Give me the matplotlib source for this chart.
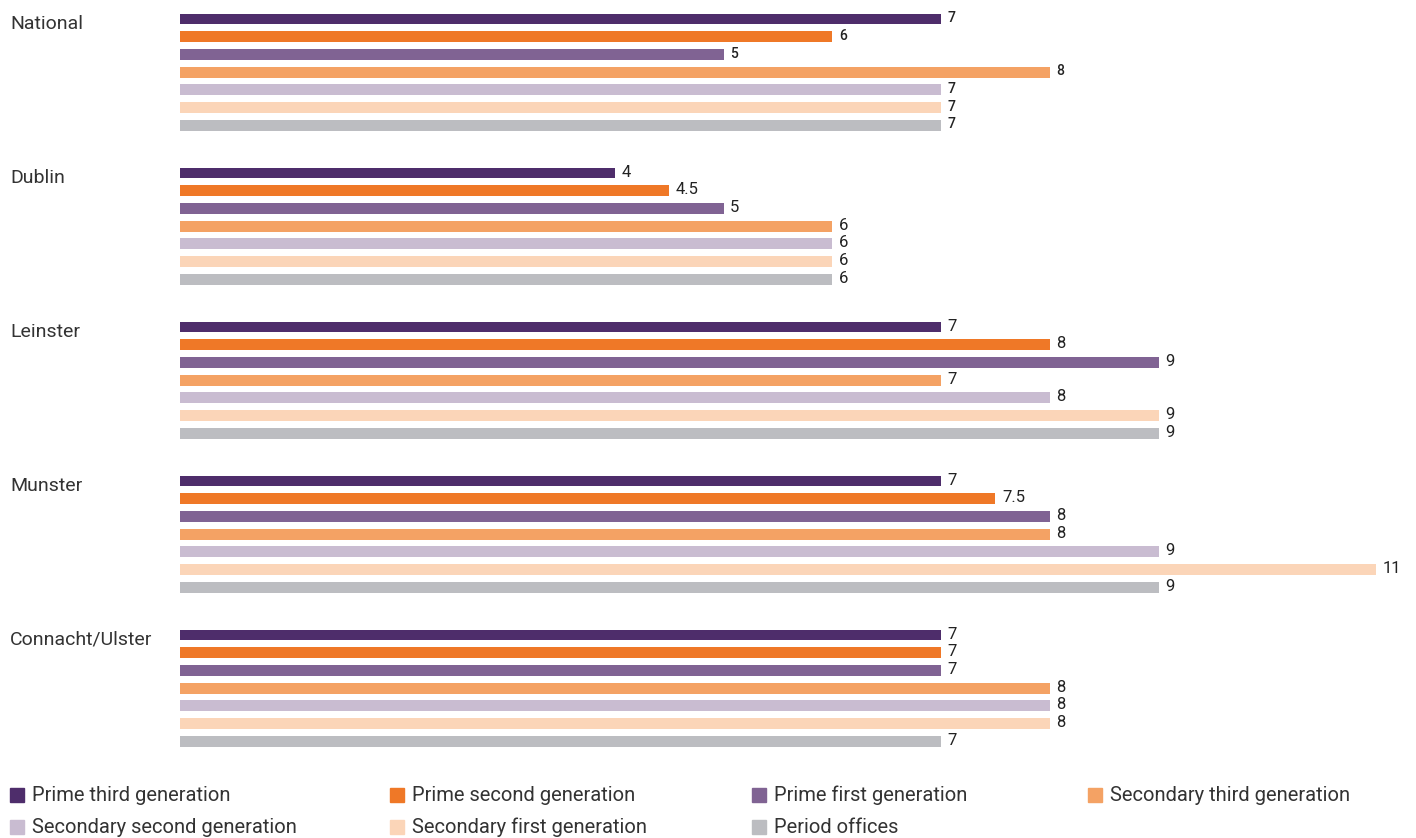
import matplotlib.pyplot as plt
from matplotlib.patches import Rectangle

plt.rcParams['font.family'] = ['Roboto', 'DejaVu Sans']

# data
regions = ['National', 'Dublin', 'Leinster', 'Munster', 'Connacht/Ulster']
series = ['Prime third generation', 'Prime second generation', 'Prime first generation',
          'Secondary third generation', 'Secondary second generation',
          'Secondary first generation', 'Period offices']
national = [7, 6, 5, 8, 7, 7, 7]
dublin = [4, 4.5, 5, 6, 6, 6, 6]
leinster = [7, 8, 9, 7, 8, 9, 9]
munster = [7, 7.5, 8, 8, 9, 11, 9]
connacht = [7, 7, 7, 8, 8, 8, 7]
values = [national, dublin, leinster, munster, connacht]

colors = ['#4e2d6b', '#ef7827', '#806393', '#f4a264', '#c9bcd1', '#fbd5b8', '#bcbdc1']

W, H = 1416, 838
fig = plt.figure(figsize=(W / 100, H / 100), dpi=100)

# axes placed in pixel terms: x from 180 to 1376 (0..11), rows 17.7px apart
row = 17.7
top_px, bot_px = 10, 750
ax = fig.add_axes([180 / W, 1 - bot_px / H, 1196 / W, (bot_px - top_px) / H])
group_gap = 154 / row
first = 19

for g, vals in enumerate(values):
    for j, v in enumerate(vals):
        y = g * group_gap + j
        ax.barh(y, v, height=0.62, color=colors[j])
        lab = ('%g' % v)
        ax.text(v + 0.06, y - 0.05, lab, va='center', ha='left',
                fontsize=10 if g == 0 else 12, color='#222222', clip_on=False,
                fontweight='medium' if g == 0 else 'normal')
    ax.text(-170 / 108.7, g * group_gap + 0.28, regions[g], va='center', ha='left',
            fontsize=14, color='#333333', clip_on=False)

ax.set_xlim(0, 11)
ax.set_ylim((bot_px - first) / row, -(first - top_px) / row)
ax.axis('off')

# legend, laid out as in the original
leg_x = [10, 390, 752, 1088, 10, 390, 752]
leg_y = [795, 795, 795, 795, 827, 827, 827]
for name, c, lx, ly in zip(series, colors, leg_x, leg_y):
    fig.patches.append(Rectangle((lx / W, 1 - (ly + 7) / H), 14 / W, 14 / H,
                                 color=c, transform=fig.transFigure, figure=fig))
    fig.text((lx + 22) / W, 1 - ly / H, name, va='center', ha='left',
             fontsize=14.5, color='#333333')

fig.savefig('out.png', dpi=100)
